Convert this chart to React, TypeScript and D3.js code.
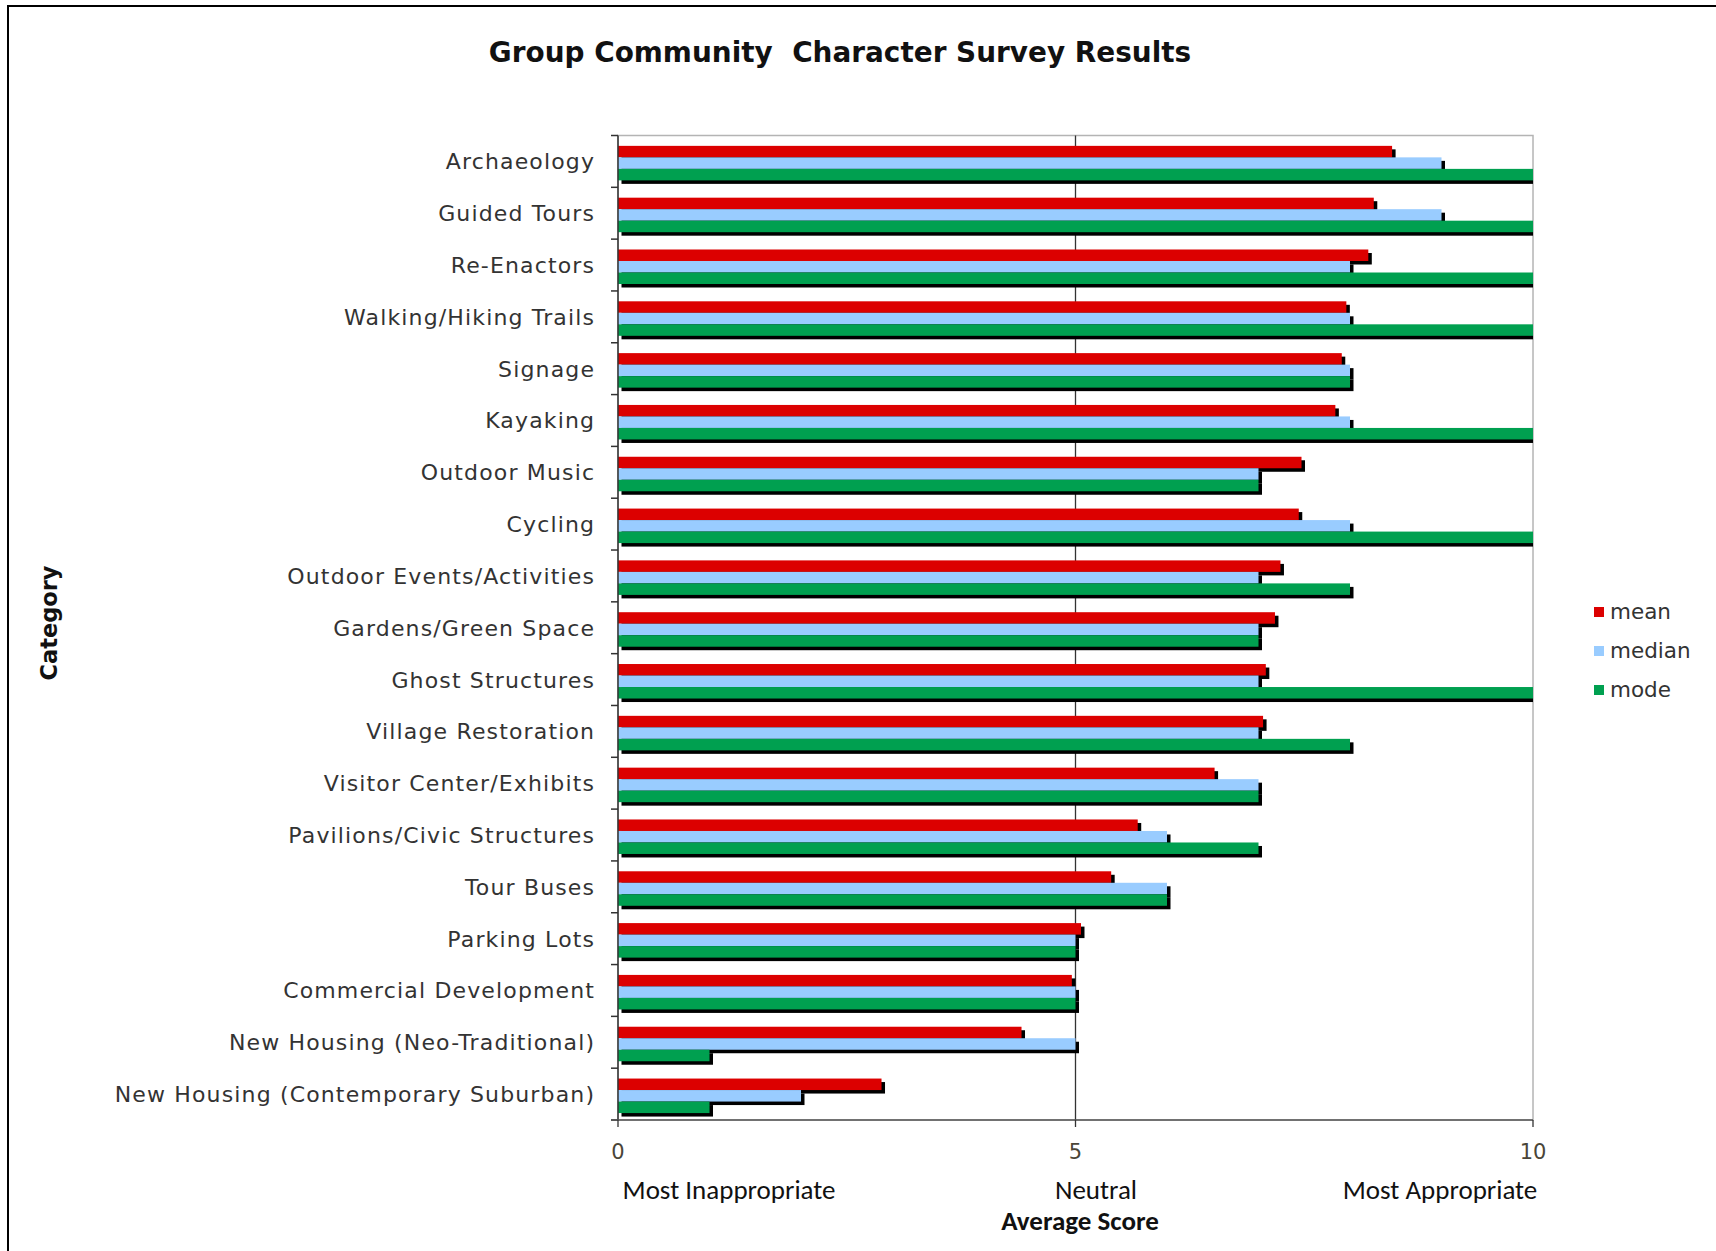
import React from "react";
import * as d3 from "d3";

const categories = [
  "Archaeology",
  "Guided Tours",
  "Re-Enactors",
  "Walking/Hiking Trails",
  "Signage",
  "Kayaking",
  "Outdoor Music",
  "Cycling",
  "Outdoor Events/Activities",
  "Gardens/Green Space",
  "Ghost Structures",
  "Village Restoration",
  "Visitor Center/Exhibits",
  "Pavilions/Civic Structures",
  "Tour Buses",
  "Parking Lots",
  "Commercial Development",
  "New Housing (Neo-Traditional)",
  "New Housing (Contemporary Suburban)",
];

const meanValues = [8.46, 8.26, 8.2, 7.96, 7.91, 7.84, 7.47, 7.44, 7.24, 7.18, 7.08, 7.05, 6.52, 5.68, 5.39, 5.06, 4.96, 4.41, 2.88];
const medianValues = [9, 9, 8, 8, 8, 8, 7, 8, 7, 7, 7, 7, 7, 6, 6, 5, 5, 5, 2];
const modeValues = [10, 10, 10, 10, 8, 10, 7, 10, 8, 7, 10, 8, 7, 7, 6, 5, 5, 1, 1];

const seriesNames = ["mean", "median", "mode"];
const seriesColors = ["#dc0000", "#99ccff", "#00a050"];
const xTicks = [0, 5, 10];
const scoreLabels = ["Most Inappropriate", "Neutral", "Most Appropriate"];

const W = 1716;
const H = 1251;
const plot = { left: 618, right: 1533, top: 135.5, bottom: 1120 };

export default function App() {
  const x = d3.scaleLinear().domain([0, 10]).range([plot.left, plot.right]);
  const y = d3.scaleBand<string>().domain(categories).range([plot.top, plot.bottom]).padding(0);
  const bw = y.bandwidth();
  const barH = bw * 0.222;
  const groupOff = bw * 0.2;
  const shadow = 3.5;
  const series = [meanValues, medianValues, modeValues];
  const labelFont = "'DejaVu Sans', Verdana, sans-serif";
  const calFont = "Carlito, Lato, 'Liberation Sans', sans-serif";
  const scorePos = [729, 1096, 1440];
  const ls = 1.15;

  return (
    <svg
      width={W}
      height={H}
      style={{ position: "absolute", left: 0, top: 0, background: "#fff" }}
    >
      <rect x={0} y={0} width={W} height={H} fill="#fff" />
      <rect x={8} y={6} width={W + 20} height={H + 20} fill="none" stroke="#000" strokeWidth={2} />

      <text
        x={840}
        y={62}
        textAnchor="middle"
        fontFamily={labelFont}
        fontWeight="bold"
        fontSize={27.9}
        fill="#111"
        style={{ whiteSpace: "pre" }}
      >
        {"Group Community  Character Survey Results"}
      </text>

      <defs>
        <clipPath id="plotClip">
          <rect x={plot.left} y={plot.top - 2} width={plot.right - plot.left} height={plot.bottom - plot.top + 2} />
        </clipPath>
      </defs>

      <rect
        x={plot.left}
        y={plot.top}
        width={plot.right - plot.left}
        height={plot.bottom - plot.top}
        fill="#fff"
        stroke="#b4b4b4"
        strokeWidth={1.5}
      />
      <line x1={x(5)} x2={x(5)} y1={plot.top} y2={plot.bottom} stroke="#333" strokeWidth={1.3} />

      <g clipPath="url(#plotClip)">
        {categories.map((c, i) => (
          <g key={c}>
            {series.map((vals, s) => {
              const yy = (y(c) as number) + groupOff + s * barH;
              const w = x(vals[i]) - x(0);
              return (
                <g key={s}>
                  <rect x={x(0) + shadow} y={yy + shadow} width={w} height={barH} fill="#000" />
                  <rect x={x(0)} y={yy} width={w} height={barH} fill={seriesColors[s]} />
                </g>
              );
            })}
          </g>
        ))}
      </g>

      <line x1={plot.left} x2={plot.left} y1={plot.top} y2={plot.bottom} stroke="#333" strokeWidth={1.5} />
      {categories.concat(["__end"]).map((c, i) => {
        const yy = i < categories.length ? (y(c) as number) : plot.bottom;
        return <line key={"t" + i} x1={plot.left - 7} x2={plot.left} y1={yy} y2={yy} stroke="#333" strokeWidth={1.5} />;
      })}
      <line x1={plot.left - 7} x2={plot.right} y1={plot.bottom} y2={plot.bottom} stroke="#555" strokeWidth={1.5} />
      {xTicks.map((t) => (
        <g key={"x" + t}>
          <line x1={x(t)} x2={x(t)} y1={plot.bottom} y2={plot.bottom + 7} stroke="#333" strokeWidth={1.3} />
          <text x={x(t)} y={1159} textAnchor="middle" fontFamily={labelFont} fontSize={21} fill="#4a4538">
            {t}
          </text>
        </g>
      ))}

      {categories.map((c) => (
        <text
          key={"l" + c}
          x={594 + ls}
          y={(y(c) as number) + bw / 2 + 8}
          textAnchor="end"
          fontFamily={labelFont}
          fontSize={22}
          letterSpacing={ls}
          fill="#333"
        >
          {c}
        </text>
      ))}

      {scoreLabels.map((s, i) => (
        <text key={s} x={scorePos[i]} y={1199} textAnchor="middle" fontFamily={calFont} fontSize={27} fill="#111">
          {s}
        </text>
      ))}
      <text x={1080} y={1230} textAnchor="middle" fontFamily={calFont} fontWeight="bold" fontSize={27} fill="#111">
        Average Score
      </text>

      <text
        transform={`translate(57, 623) rotate(-90)`}
        textAnchor="middle"
        fontFamily={labelFont}
        fontWeight="bold"
        fontSize={22.5}
        fill="#111"
      >
        Category
      </text>

      {seriesNames.map((n, i) => (
        <g key={n} transform={`translate(1594, ${612 + i * 39})`}>
          <rect x={0} y={-5} width={10} height={10} fill={seriesColors[i]} />
          <text x={16} y={7} fontFamily={labelFont} fontSize={21.5} fill="#333">
            {n}
          </text>
        </g>
      ))}
    </svg>
  );
}
